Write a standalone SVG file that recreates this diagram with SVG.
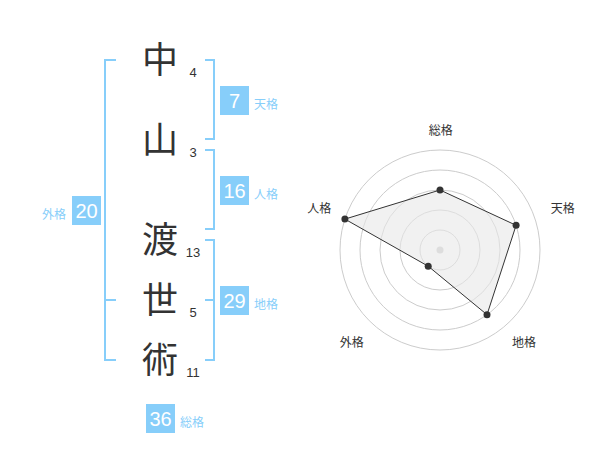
<svg xmlns="http://www.w3.org/2000/svg" width="600" height="470" viewBox="0 0 600 470">
<style>
.ch{font-family:"Noto Sans CJK JP","Noto Sans CJK SC",sans-serif;font-size:36px;fill:#333;text-anchor:middle}
.num{font-family:"Liberation Sans",Arial,sans-serif;font-size:13px;fill:#333;text-anchor:middle}
.br{fill:none;stroke:#87cefa;stroke-width:2}
.box{fill:#87cefa}
.bt{font-family:"Liberation Sans",Arial,sans-serif;font-size:20px;fill:#fff;text-anchor:middle}
.lb{font-family:"Noto Sans CJK JP","Noto Sans CJK SC",sans-serif;font-size:12px;fill:#87cefa}
.rl{font-family:"Noto Sans CJK JP","Noto Sans CJK SC",sans-serif;font-size:12px;fill:#333;text-anchor:middle}
.ring{fill:none;stroke:#ccc;stroke-width:1}
</style>
<rect width="600" height="470" fill="#fff"/>
<g id="connectors">
<path class="br" d="M116,60 H105 V360 H116 M105,300 H116"/>
<path class="br" d="M205,60 H214 V139 H205"/>
<path class="br" d="M205,150 H214 V229 H205"/>
<path class="br" d="M205,240 H214 V360 H205 M205,300 H214"/>
</g>
<g id="char-naka"><text class="ch" x="160" y="73">中</text><text class="num" x="193" y="77">4</text></g>
<g id="char-yama"><text class="ch" x="160" y="153">山</text><text class="num" x="193" y="157">3</text></g>
<g id="char-wata"><text class="ch" x="160" y="253">渡</text><text class="num" x="193" y="257">13</text></g>
<g id="char-yo"><text class="ch" x="160" y="313">世</text><text class="num" x="193" y="317">5</text></g>
<g id="char-jutsu"><text class="ch" x="160" y="373">術</text><text class="num" x="193" y="377">11</text></g>
<g id="tenkaku"><rect class="box" x="220" y="86" width="29" height="29"/><text class="bt" x="234.5" y="107.5">7</text><text class="lb" x="254" y="109">天格</text></g>
<g id="jinkaku"><rect class="box" x="220" y="176" width="29" height="29"/><text class="bt" x="234.5" y="197.5">16</text><text class="lb" x="254" y="199">人格</text></g>
<g id="chikaku"><rect class="box" x="220" y="286" width="29" height="29"/><text class="bt" x="234.5" y="307.5">29</text><text class="lb" x="254" y="309">地格</text></g>
<g id="gaikaku"><rect class="box" x="72" y="196" width="29" height="29"/><text class="bt" x="86.5" y="217.5">20</text><text class="lb" x="66" y="219" text-anchor="end">外格</text></g>
<g id="soukaku"><rect class="box" x="146" y="404" width="29" height="29"/><text class="bt" x="160.5" y="425.5">36</text><text class="lb" x="180" y="427">総格</text></g>
<g id="radar">
<circle class="ring" cx="440" cy="250" r="20"/>
<circle class="ring" cx="440" cy="250" r="40"/>
<circle class="ring" cx="440" cy="250" r="60"/>
<circle class="ring" cx="440" cy="250" r="80"/>
<circle class="ring" cx="440" cy="250" r="100"/>
<circle cx="440" cy="250" r="3.5" fill="#ccc"/>
<polygon points="440,190 516.1,225.3 487,314.7 428.2,266.2 344.9,219.1" fill="#e8e8e8" fill-opacity="0.6" stroke="#333" stroke-width="1"/>
<g fill="#333">
<circle cx="440" cy="190" r="3.5"/>
<circle cx="516.1" cy="225.3" r="3.5"/>
<circle cx="487" cy="314.7" r="3.5"/>
<circle cx="428.2" cy="266.2" r="3.5"/>
<circle cx="344.9" cy="219.1" r="3.5"/>
</g>
<text class="rl" x="440.7" y="134.5">総格</text>
<text class="rl" x="562.7" y="212.5">天格</text>
<text class="rl" x="524" y="346.5">地格</text>
<text class="rl" x="351.7" y="346.5">外格</text>
<text class="rl" x="319.3" y="212.5">人格</text>
</g>
</svg>
